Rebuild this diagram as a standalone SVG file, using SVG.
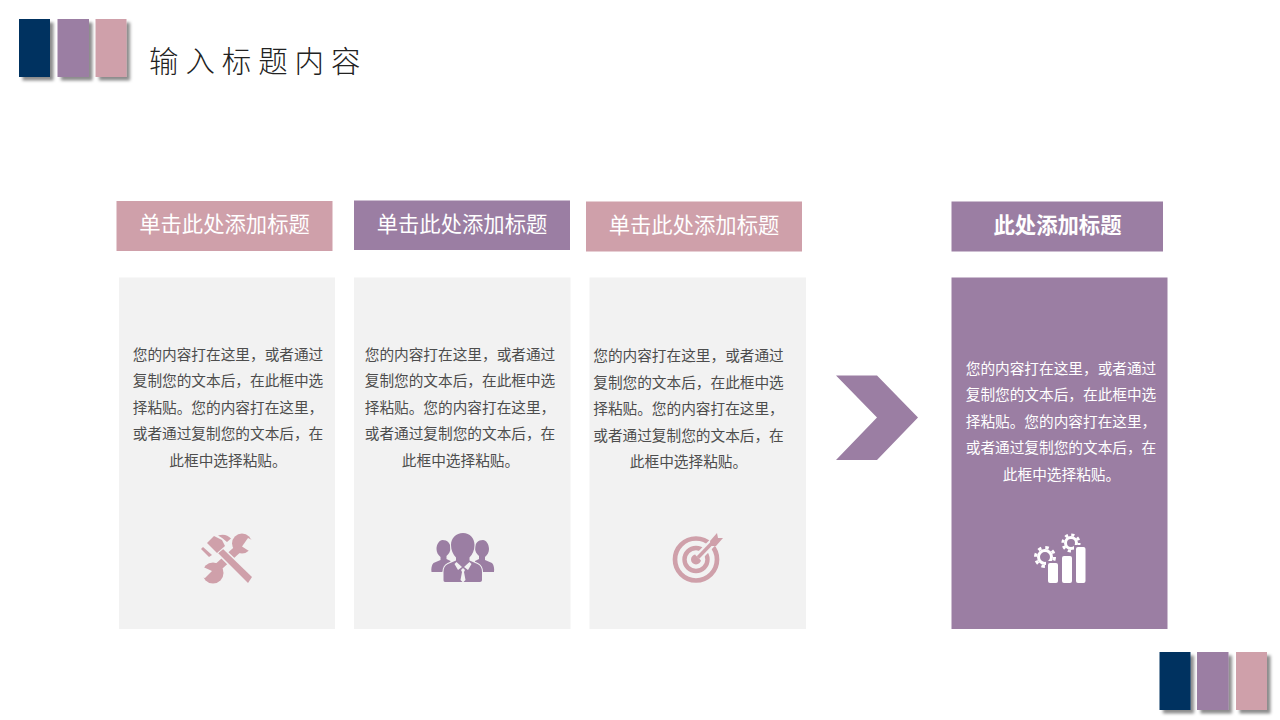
<svg xmlns="http://www.w3.org/2000/svg" width="1280" height="720" viewBox="0 0 1280 720">
<style>
text{font-family:"Noto Sans CJK SC","Noto Sans SC",sans-serif}
.navy{fill:#003361}.pur{fill:#9b7ea3}.pink{fill:#cfa0aa}.panel{fill:#f2f2f2}
.hd{font-size:21.33px;fill:#fff;text-anchor:middle}
.b{font-size:14.67px;fill:#4d4d4d;text-anchor:middle}
.bw{font-size:14.67px;fill:#fff;text-anchor:middle}
.w{fill:#fff}
.title{font-size:29.5px;fill:#222;font-weight:300;letter-spacing:6.9px}
</style>
<defs>
<filter id="sh" x="-30%" y="-20%" width="170%" height="140%"><feDropShadow dx="3.500" dy="3.500" stdDeviation="1.800" flood-color="#000" flood-opacity=".45"/></filter>
</defs>
<rect width="1280" height="720" fill="#fff"/>
<g id="deco-top" filter="url(#sh)">
<rect class="navy" x="19" y="19" width="31" height="58"/><rect class="pur" x="57.500" y="19" width="31.500" height="58"/><rect class="pink" x="95.500" y="19" width="31" height="58"/>
</g>
<text id="title" class="title" x="149" y="72">输入标题内容</text>
<g id="card1">
<rect class="pink" x="116.500" y="201" width="216" height="50"/><text class="hd" x="224.500" y="232">单击此处添加标题</text>
<rect class="panel" x="119" y="277.500" width="216" height="351.500"/>
<text class="b" x="228" y="359.500">您的内容打在这里，或者通过</text><text class="b" x="228" y="386">复制您的文本后，在此框中选</text><text class="b" x="228" y="412.500">择粘贴。您的内容打在这里，</text><text class="b" x="228" y="439">或者通过复制您的文本后，在</text><text class="b" x="228" y="465.500">此框中选择粘贴。</text>
<g id="icon-tools">
<circle class="pink" cx="242" cy="543.500" r="10"/>
<circle class="pink" cx="213" cy="573" r="10.500"/>
<path d="M238 549L217 568" stroke="#cfa0aa" stroke-width="8" fill="none"/>
<path class="panel" d="M242 546.500L248 538L254 541L254 552L249 551Z"/>
<path class="panel" d="M212 571L201 566L200 577L205 578Z"/>
<path d="M218 553 L223 549 L252 577 L248 583Z" class="pink" stroke="#f2f2f2" stroke-width="3" paint-order="stroke"/>
<path class="pink" d="M207 543 L214 536 L222 540 L225 546 L217 553Z" stroke="#f2f2f2" stroke-width="2" paint-order="stroke"/>
<path class="pink" d="M201 549 L203 547 L212 555 L209 557Z"/>
<path class="pink" d="M218 535.500 Q226 533 231 538.500 L227 542 Q223 538 218 535.500Z"/>
</g>
</g>
<g id="card2">
<rect class="pur" x="354" y="200.500" width="216" height="49.500"/><text class="hd" x="462" y="231.500">单击此处添加标题</text>
<rect class="panel" x="354" y="277.500" width="216.500" height="351.500"/>
<text class="b" x="460" y="359.500">您的内容打在这里，或者通过</text><text class="b" x="460" y="386">复制您的文本后，在此框中选</text><text class="b" x="460" y="412.500">择粘贴。您的内容打在这里，</text><text class="b" x="460" y="439">或者通过复制您的文本后，在</text><text class="b" x="460.500" y="465.500">此框中选择粘贴。</text>
<g id="icon-people">
<path class="pur" d="M442.500 540c5 0 8 3.500 8 8 0 3-1.500 6-4 8v3l4 2 0 4-7 5-1 2h-11c-.5-3 0-7 2-9l7-3v-3c-2.500-2-4-5-4-8 0-5 3-9 6-9z"/>
<path class="pur" d="M483 540c-5 0-8 3.500-8 8 0 3 1.500 6 4 8v3l-4 2 0 4 7 5 1 2h11c.5-3 0-7-2-9l-7-3v-3c2.500-2 4-5 4-8 0-5-3-9-6-9z"/>
<path class="pur" stroke="#f2f2f2" stroke-width="2" paint-order="stroke" d="M463 533c7 0 11.500 5 11.500 12 0 5-2 9.500-5 12.500v3l8 3.500c3 1.500 4.500 4 4.500 8v8c0 1-1 2-2 2h-35c-1 0-1.500-1-1.500-2v-8c0-4 1.500-6.500 4.500-8l8-3.500v-3c-3-3-5-7.500-5-12.500 0-7 5-12 12-12z"/>
<path class="panel" d="M456.500 562l-2 2 3.500 6 4-3zM469.500 562l2 2-3.500 6-4-3zM463 568l-2 2 1 2-1.500 8 2.500 2.500 2.500-2.500-1.500-8 1-2z"/>
</g>
</g>
<g id="card3">
<rect class="pink" x="586" y="201.500" width="216" height="50"/><text class="hd" x="694" y="232.500">单击此处添加标题</text>
<rect class="panel" x="589.500" y="277.500" width="216.500" height="351.500"/>
<text class="b" x="688.500" y="361">您的内容打在这里，或者通过</text><text class="b" x="688.500" y="387.500">复制您的文本后，在此框中选</text><text class="b" x="688.500" y="414">择粘贴。您的内容打在这里，</text><text class="b" x="688.500" y="440.500">或者通过复制您的文本后，在</text><text class="b" x="688.500" y="467">此框中选择粘贴。</text>
<g id="icon-target">
<circle cx="696" cy="559.500" r="21" fill="none" stroke="#cfa0aa" stroke-width="4.700"/>
<circle cx="696" cy="559.500" r="11.500" fill="none" stroke="#cfa0aa" stroke-width="4.400"/>
<circle class="pink" cx="696" cy="559.500" r="5"/>
<path d="M698 557.500L716 539" stroke="#f2f2f2" stroke-width="8" fill="none"/>
<path d="M698 557.500L713 542" stroke="#cfa0aa" stroke-width="3.500" fill="none"/>
<path class="pink" d="M710 541l7-8 1 5 5 0-7 8-5 0z"/>
</g>
</g>
<path id="arrow" class="pur" d="M836 375.500h41l41 42-41 42.500h-41l41-42.500z"/>
<g id="card4">
<rect class="pur" x="951.500" y="201.500" width="211.500" height="50"/><text class="hd" x="1057.500" y="232.500" font-weight="700">此处添加标题</text>
<rect class="pur" x="951.500" y="277.500" width="216" height="351.500"/>
<text class="bw" x="1061" y="373.500">您的内容打在这里，或者通过</text><text class="bw" x="1061" y="400">复制您的文本后，在此框中选</text><text class="bw" x="1061" y="426.500">择粘贴。您的内容打在这里，</text><text class="bw" x="1061" y="453">或者通过复制您的文本后，在</text><text class="bw" x="1061.500" y="479.500">此框中选择粘贴。</text>
<g id="icon-chart">
<circle cx="1045" cy="557" r="6.500" fill="none" stroke="#fff" stroke-width="3"/>
<circle cx="1045" cy="557" r="9.500" fill="none" stroke="#fff" stroke-width="3" stroke-dasharray="3.500 3.960"/>
<circle cx="1071" cy="543" r="5.500" fill="none" stroke="#fff" stroke-width="3"/>
<circle cx="1071" cy="543" r="8.200" fill="none" stroke="#fff" stroke-width="2.800" stroke-dasharray="3.200 3.240"/>
<path class="pur" d="M1046 561h14v23h-14zM1060 554h14v30h-14zM1074 545h13v39h-13z"/>
<rect class="w" x="1048" y="563" width="10" height="20" rx="2"/><rect class="w" x="1062" y="556" width="10" height="27" rx="2"/><rect class="w" x="1076" y="547" width="9.500" height="36" rx="2"/>
</g>
</g>
<g id="deco-bottom" filter="url(#sh)">
<rect class="navy" x="1159.500" y="652" width="31" height="58"/><rect class="pur" x="1197" y="652" width="31.500" height="58"/><rect class="pink" x="1236" y="652" width="31" height="58"/>
</g>
</svg>
